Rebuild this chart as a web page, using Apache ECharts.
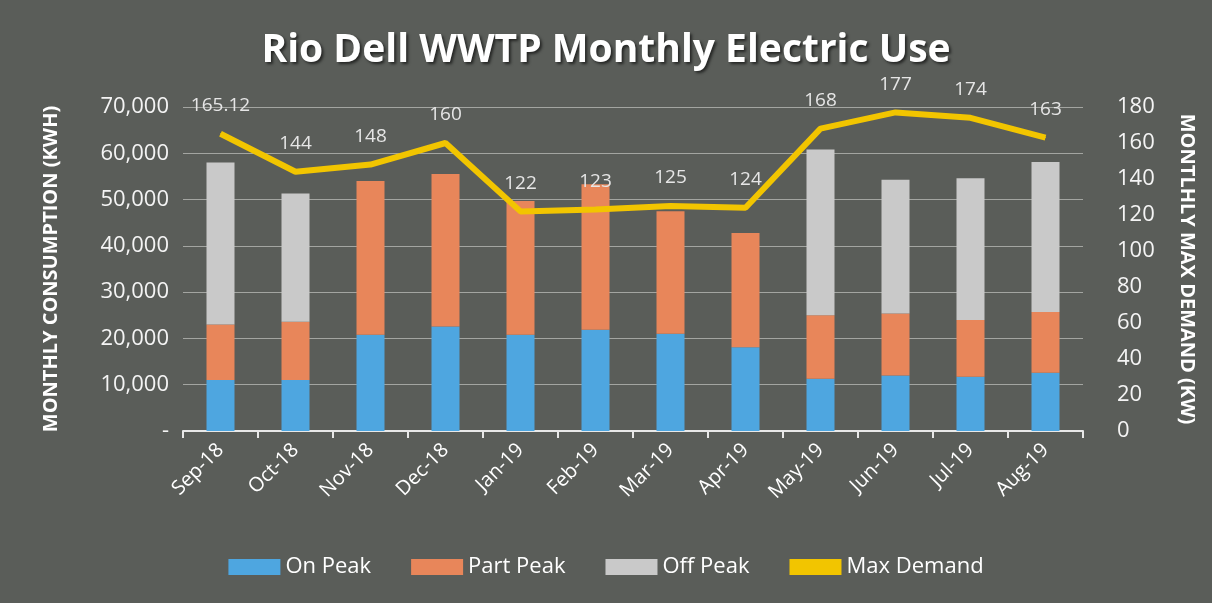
<!DOCTYPE html>
<html>
<head>
<meta charset="utf-8">
<script src="https://cdn.jsdelivr.net/npm/echarts@6/dist/echarts.min.js"></script>
<style>
  html,body{margin:0;padding:0;background:#5a5d59;}
  #chart{width:1212px;height:603px;}
</style>
</head>
<body>
<div id="chart"></div>
<script>
const months=['Sep-18','Oct-18','Nov-18','Dec-18','Jan-19','Feb-19','Mar-19','Apr-19','May-19','Jun-19','Jul-19','Aug-19'];
const onPeak=[11000,11000,20800,22600,20800,21900,21000,18100,11300,12000,11700,12600];
const partPeak=[12000,12600,33200,32900,28900,31400,26500,24700,13700,13400,12300,13100];
const offPeak=[35000,27700,0,0,0,0,0,0,35800,28900,30600,32400];
const maxDemand=[165.12,144,148,160,122,123,125,124,168,177,174,163];

const chart=echarts.init(document.getElementById('chart'));
const font='"Open Sans", "Noto Sans", sans-serif';

chart.setOption({
  backgroundColor:'#5a5d59',
  textStyle:{fontFamily:font},
  title:{
    text:'Rio Dell WWTP Monthly Electric Use',
    left:'center',
    top:26,
    textStyle:{color:'#ffffff',fontSize:39,fontWeight:'bold',fontFamily:font,
      textShadowColor:'rgba(0,0,0,0.6)',textShadowBlur:3,textShadowOffsetX:2,textShadowOffsetY:2}
  },
  legend:{
    bottom:20,
    left:'center',
    itemGap:40,
    itemWidth:52,
    itemHeight:16,
    textStyle:{color:'#ffffff',fontSize:22,fontFamily:font},
    data:[
      {name:'On Peak',icon:'rect'},
      {name:'Part Peak',icon:'rect'},
      {name:'Off Peak',icon:'rect'},
      {name:'Max Demand',icon:'rect',itemStyle:{color:'#f2c500'}}
    ]
  },
  grid:{left:183,right:129,top:107,bottom:172},
  xAxis:{
    type:'category',
    data:months,
    axisLine:{lineStyle:{color:'#e8e8e8',width:2}},
    axisTick:{show:true,length:7,lineStyle:{color:'#e8e8e8',width:2}},
    axisLabel:{color:'#ffffff',fontSize:20,rotate:45,margin:16}
  },
  yAxis:[
    {
      type:'value',
      min:0,max:70000,interval:10000,
      name:'MONTHLY CONSUMPTION (KWH)',
      nameLocation:'middle',
      nameGap:122,
      nameRotate:90,
      nameTextStyle:{color:'#ffffff',fontSize:20,fontWeight:'bold'},
      axisLine:{show:false},
      axisTick:{show:false},
      splitLine:{lineStyle:{color:'#a3a5a1',width:1}},
      axisLabel:{color:'#f4f4f4',fontSize:22,margin:14,
        formatter:v=>v===0?'-':v.toLocaleString('en-US')}
    },
    {
      type:'value',
      min:0,max:180,interval:20,
      name:'MONTLHLY MAX DEMAND (KW)',
      nameLocation:'middle',
      nameGap:94,
      nameRotate:-90,
      nameTextStyle:{color:'#ffffff',fontSize:20,fontWeight:'bold'},
      axisLine:{show:false},
      axisTick:{show:false},
      splitLine:{show:false},
      axisLabel:{color:'#f4f4f4',fontSize:22,margin:34}
    }
  ],
  series:[
    {name:'On Peak',type:'bar',stack:'use',barWidth:28,data:onPeak,
      itemStyle:{color:'#4ea6e0'}},
    {name:'Part Peak',type:'bar',stack:'use',barWidth:28,data:partPeak,
      itemStyle:{color:'#e8865a'}},
    {name:'Off Peak',type:'bar',stack:'use',barWidth:28,data:offPeak,
      itemStyle:{color:'#c9c9c9'}},
    {name:'Max Demand',type:'line',yAxisIndex:1,data:maxDemand,
      symbol:'circle',symbolSize:1,
      lineStyle:{color:'#f2c500',width:6},
      itemStyle:{color:'#f2c500'},
      label:{show:true,position:'top',distance:18,color:'#e6e6e6',fontSize:19}
    }
  ]
});
</script>
</body>
</html>
